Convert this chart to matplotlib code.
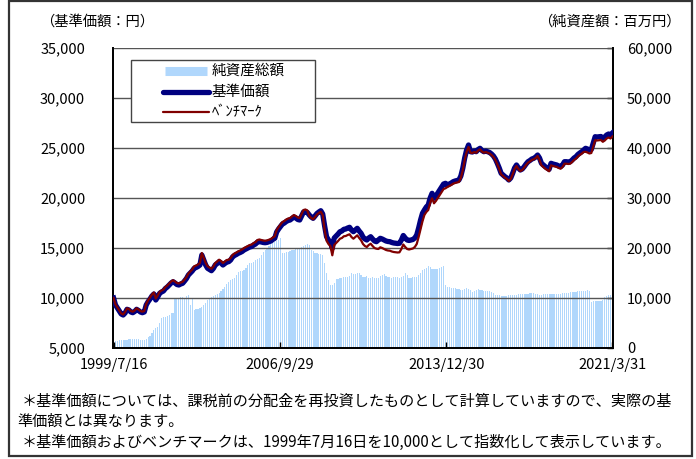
import matplotlib
matplotlib.use("Agg")
import matplotlib.pyplot as plt
from matplotlib.lines import Line2D
from matplotlib.patches import Rectangle
import numpy as np

plt.rcParams['font.family'] = ['Noto Sans CJK JP', 'DejaVu Sans']

# Monthly data, 1999/7 .. 2021/3
x_tick_labels = ["1999/7/16", "2006/9/29", "2013/12/30", "2021/3/31"]
x_tick_months = [0, 86.5, 173.5, 260]

nav = [
    10000, 9300, 9000, 8700, 8400, 8300,
    8500, 8870, 8800, 8600, 8530, 8650, 8870, 8750, 8600, 8530, 8600, 9300,
    9630, 9900, 10200, 10400, 9800, 10100, 10470, 10600, 10700, 10950, 11100, 11300,
    11500, 11630, 11500, 11350, 11300, 11400, 11470, 11700, 11950, 12300, 12500, 12700,
    12970, 13050, 13150, 13300, 14300, 13800, 13300, 12970, 12850, 12730, 12950, 13300,
    13450, 13630, 13500, 13300, 13450, 13600, 13630, 13800, 14100, 14250, 14350, 14470,
    14550, 14650, 14800, 14900, 15000, 15100, 15150, 15300, 15400, 15600, 15650, 15600,
    15550, 15530, 15560, 15630, 15700, 15850, 15970, 16600, 16900, 17150, 17400, 17500,
    17650, 17750, 17800, 17950, 18100, 18000, 17850, 17800, 18200, 18600, 18650, 18550,
    18300, 18100, 17970, 18200, 18450, 18600, 18730, 18400, 17200, 16130, 15800, 15600,
    14970, 16000, 16200, 16400, 16630, 16700, 16870, 16900, 17000, 17070, 16800, 16630,
    16800, 16970, 16700, 16470, 16100, 15900, 15800, 16000, 16130, 15900, 15700, 15630,
    15800, 15970, 15900, 15800, 15700, 15650, 15630, 15550, 15500, 15470, 15450, 15470,
    15800, 16250, 16000, 15800, 15750, 15800, 15850, 16000, 16300, 17000, 17800, 18470,
    18800, 19100, 19300, 20000, 20470, 19970, 20200, 20500, 20800, 21100, 21400, 21470,
    21300, 21400, 21500, 21630, 21700, 21750, 21800, 22200, 22970, 24000, 24800, 25300,
    24630, 24600, 24700, 24630, 24850, 24970, 24750, 24630, 24700, 24630, 24550, 24400,
    24200, 23900, 23470, 23000, 22470, 22300, 22130, 22000, 21800, 22000, 22470, 23000,
    23300, 23000, 22800, 22900, 23130, 23400, 23630, 23750, 23900, 23970, 24100, 24300,
    24000, 23470, 23300, 23130, 23000, 22870, 23470, 23400, 23350, 23300, 23200, 23130,
    23300, 23630, 23630, 23600, 23630, 23800, 24000, 24130, 24350, 24500, 24630, 24800,
    24970, 24900, 24800, 24850, 25500, 26130, 26100, 26130, 26150, 25970, 26100, 26300,
    26400, 26300, 26500,
]

benchmark = [
    10000, 9350, 9050, 8750, 8450, 8350,
    8600, 8970, 8900, 8700, 8630, 8750, 8970, 8850, 8700, 8630, 8700, 9400,
    9780, 10050, 10350, 10550, 9950, 10250, 10620, 10750, 10850, 11100, 11250, 11450,
    11650, 11780, 11650, 11500, 11450, 11550, 11620, 11850, 12100, 12450, 12650, 12850,
    13170, 13250, 13350, 13500, 14500, 14000, 13500, 13170, 13050, 12930, 13150, 13500,
    13650, 13830, 13700, 13500, 13650, 13800, 13830, 14000, 14300, 14450, 14550, 14670,
    14750, 14850, 15000, 15100, 15200, 15300, 15350, 15500, 15600, 15800, 15850, 15800,
    15750, 15730, 15760, 15830, 15900, 16050, 16170, 16800, 17100, 17350, 17600, 17700,
    17850, 17950, 18000, 18150, 18300, 18200, 18050, 18000, 18400, 18800, 18850, 18750,
    18200, 18000, 17870, 18100, 18350, 18500, 18630, 18300, 16800, 15730, 15400, 15200,
    14270, 15300, 15500, 15700, 15930, 16000, 16170, 16200, 16300, 16370, 16100, 15930,
    16100, 16270, 16000, 15770, 15400, 15200, 15100, 15300, 15430, 15200, 15000, 14930,
    14900, 15070, 15000, 14900, 14800, 14750, 14730, 14650, 14600, 14570, 14550, 14570,
    14900, 15350, 15100, 14900, 14850, 14900, 14950, 15100, 15400, 16100, 16900, 17670,
    18300, 18600, 18800, 19500, 19970, 19470, 19700, 20000, 20300, 20600, 20900, 20970,
    21100, 21200, 21300, 21430, 21500, 21550, 21600, 22000, 22770, 23800, 24600, 25100,
    24530, 24500, 24600, 24530, 24750, 24870, 24650, 24530, 24600, 24530, 24450, 24300,
    24100, 23800, 23370, 22900, 22370, 22200, 22030, 21900, 21700, 21900, 22370, 22900,
    23200, 22900, 22700, 22800, 23030, 23300, 23530, 23650, 23800, 23870, 24000, 24200,
    23800, 23270, 23100, 22930, 22800, 22670, 23270, 23200, 23150, 23100, 23000, 22930,
    23100, 23430, 23430, 23400, 23430, 23600, 23800, 23930, 24150, 24300, 24430, 24600,
    24620, 24550, 24450, 24500, 25150, 25780, 25750, 25780, 25800, 25620, 25750, 25950,
    26050, 25950, 26150,
]

net_assets = [
    1500, 1450, 1450, 1500, 1500, 1500,
    1550, 1600, 1700, 1750, 1750, 1700, 1750, 1700, 1650, 1600, 1600, 1700,
    2200, 2300, 3000, 3600, 4000, 4270, 5000, 6000, 6100, 6270, 6400, 6600,
    6930, 7070, 9930, 10000, 10050, 10130, 10200, 9800, 10300, 10600, 8600, 9930,
    7600, 7700, 7800, 7930, 8200, 8600, 9000, 9500, 9930, 10200, 10400, 10600,
    10700, 10930, 11300, 11800, 12270, 12800, 13200, 13600, 13700, 13930, 14500, 15270,
    15300, 15400, 15600, 16000, 16500, 16930, 17000, 17270, 17500, 17700, 17930, 18500,
    19270, 19500, 19930, 20300, 20700, 21000, 21270, 21400, 21600, 22000, 18930, 19000,
    19100, 19270, 19300, 19500, 19600, 19930, 19800, 20000, 20270, 20400, 20500, 20800,
    20500, 19600, 19300, 19000, 18930, 18800, 18700, 18600, 16930, 15000, 13600, 12600,
    12600, 13000, 13730, 13800, 13900, 14000, 14130, 14100, 14130, 14300, 14930, 14700,
    14800, 14930, 14900, 14500, 14200, 14130, 14300, 14000, 13900, 14100, 13930, 13930,
    14000, 14300, 14500, 14800, 14400, 14200, 14130, 14000, 14130, 14200, 14100, 14000,
    14130, 14300, 15070, 14500, 13930, 14000, 14100, 14130, 14200, 14600, 15000, 15600,
    15800, 16000, 16400, 16200, 15730, 15800, 15730, 15750, 16000, 16270, 16300, 12600,
    12270, 12100, 12000, 11930, 11900, 11800, 11700, 11650, 11600, 11700, 11930, 11800,
    11500, 11270, 11400, 11600, 11730, 11600, 11500, 11470, 11400, 11300, 11300, 11270,
    10900, 10600, 10500, 10500, 10400, 10400, 10400, 10400, 10500, 10600, 10600, 10600,
    10600, 10700, 10700, 10800, 10800, 10800, 10850, 10900, 10930, 10900, 10800, 10700,
    10600, 10600, 10700, 10700, 10800, 10800, 10800, 10750, 10800, 10800, 10800, 10800,
    10900, 10950, 11000, 11070, 11100, 11150, 11200, 11250, 11330, 11350, 11400, 11450,
    11470, 11500, 11470, 9270, 9300, 9400, 9400, 9470, 9470, 9500, 10270, 10400,
    10500, 10600, 10600,
]

left_ticks = [5000, 10000, 15000, 20000, 25000, 30000, 35000]
right_ticks = [0, 10000, 20000, 30000, 40000, 50000, 60000]

legend_labels = ["純資産総額", "基準価額", "ﾍﾞﾝﾁﾏｰｸ"]
left_title = "（基準価額：円）"
right_title = "（純資産額：百万円）"
notes = [
    "＊基準価額については、課税前の分配金を再投資したものとして計算していますので、実際の基",
    "準価額とは異なります。",
    "＊基準価額およびベンチマークは、1999年7月16日を10,000として指数化して表示しています。",
]

BAR_COLOR = '#b0d7fc'
NAV_COLOR = '#000080'
BM_COLOR = '#800000'

W, H = 696, 459
fig = plt.figure(figsize=(W / 100, H / 100), dpi=100)

def fx(px):
    return px / W

def fy(py):
    return 1 - py / H

ax_left, ax_right, ax_top, ax_bot = 113, 613, 48, 348
ax = fig.add_axes([fx(ax_left), fy(ax_bot), (ax_right - ax_left) / W, (ax_bot - ax_top) / H])
ax2 = ax.twinx()

months = np.arange(len(nav))

ax2.bar(months, net_assets, width=0.62, color=BAR_COLOR, edgecolor='none', zorder=1)
ax2.set_ylim(0, 60000)
ax2.set_yticks(right_ticks)
ax2.set_yticklabels([f"{v:,}" for v in right_ticks], fontsize=10.5)
ax2.tick_params(axis='y', direction='in', length=4, width=1, pad=10, colors='black')

ax.set_zorder(ax2.get_zorder() + 1)
ax.patch.set_visible(False)

for v in left_ticks[1:]:
    ax.axhline(v, color='#555555', lw=1.0, zorder=1)

ax.plot(months, nav, color=NAV_COLOR, lw=3.8, solid_joinstyle='round', zorder=3)
ax.plot(months, benchmark, color=BM_COLOR, lw=1.6, solid_joinstyle='round', zorder=4)

ax.set_xlim(-0.3, len(nav) - 0.7)
ax.set_ylim(5000, 35000)
ax.set_yticks(left_ticks)
ax.set_yticklabels([f"{v:,}" for v in left_ticks], fontsize=10.5)
ax.tick_params(axis='y', length=0, pad=20)
ax.set_xticks(x_tick_months)
ax.set_xticklabels(x_tick_labels, fontsize=10.5)
ax.tick_params(axis='x', direction='in', length=4, width=1, pad=7)

for a in (ax, ax2):
    for s in a.spines.values():
        s.set_linewidth(1.3)
        s.set_color('black')
    a.spines['top'].set_visible(False)

# Legend (drawn manually to match the wide box)
fig.patches.append(Rectangle((fx(131), fy(122)), fx(315) - fx(131), fy(60) - fy(122),
                             transform=fig.transFigure, facecolor='white',
                             edgecolor='#444444', lw=1.0, zorder=10))
legend_rows = [71, 92, 112]
legend_styles = [(BAR_COLOR, 6.5), (NAV_COLOR, 3.8), (BM_COLOR, 1.6)]
for row_y, (col, lw), lab in zip(legend_rows, legend_styles, legend_labels):
    x0 = 165 if lw > 5 else 163
    x1 = 207 if lw > 5 else 209
    fig.lines.append(Line2D([fx(x0), fx(x1)], [fy(row_y), fy(row_y)],
                            transform=fig.transFigure, color=col, lw=lw,
                            solid_capstyle='butt' if lw > 5 else 'round', zorder=11))
    fig.text(fx(212), fy(row_y), lab, fontsize=10.5, ha='left', va='center', zorder=12)

# Axis titles
fig.text(fx(40), fy(22), left_title, fontsize=10.3, ha='left', va='center')
fig.text(fx(681), fy(22), right_title, fontsize=10.3, ha='right', va='center')

# Notes
fig.text(fx(22), fy(401), notes[0], fontsize=10.9, ha='left', va='center')
fig.text(fx(17), fy(421), notes[1], fontsize=10.9, ha='left', va='center')
fig.text(fx(22), fy(442), notes[2], fontsize=10.9, ha='left', va='center')

# Outer frame
fig.patches.append(Rectangle((fx(9), fy(456)), fx(692) - fx(9), fy(1) - fy(456),
                             transform=fig.transFigure, fill=False,
                             edgecolor='#333333', lw=1.6))

fig.savefig("out.png", dpi=100)
